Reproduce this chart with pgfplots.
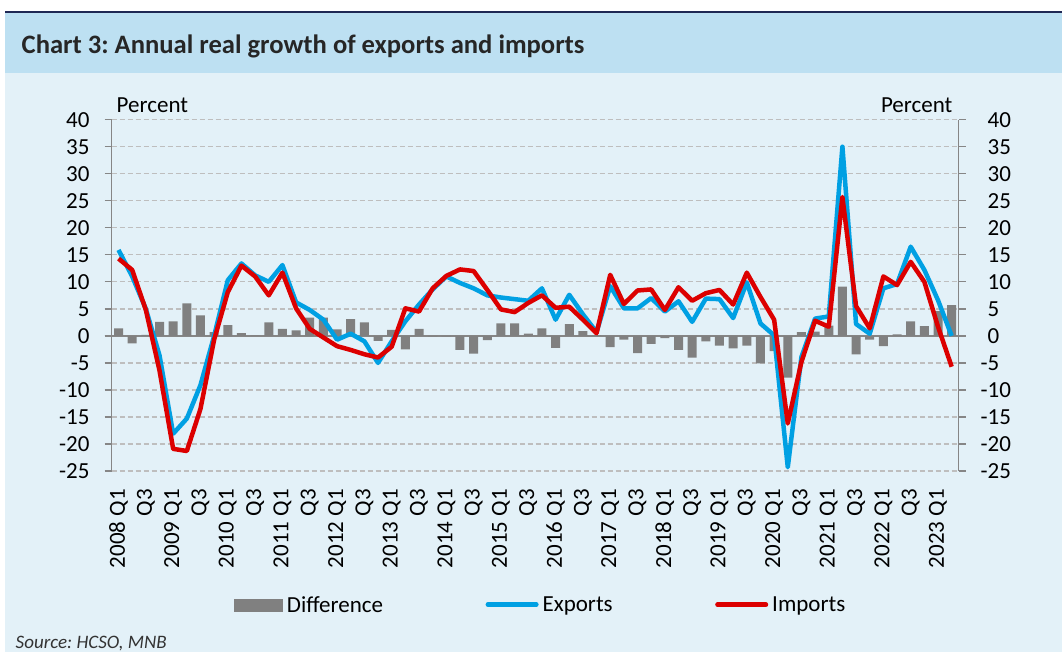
\documentclass[border=0pt]{standalone}
\usepackage{fontspec}
\setmainfont{Carlito}
\usepackage{pgfplots}
\usepackage{pgfplotstable}
\pgfplotsset{compat=1.18}
\definecolor{navy}{RGB}{31,40,84}
\definecolor{titlebg}{RGB}{189,224,242}
\definecolor{plotbg}{RGB}{227,241,248}
\definecolor{expblue}{RGB}{0,160,227}
\definecolor{impred}{RGB}{220,0,0}
\definecolor{bargray}{RGB}{128,128,128}
\definecolor{gridgray}{RGB}{190,190,190}
\definecolor{axisgray}{RGB}{134,134,134}
\newcommand\bigfont{\fontsize{23}{27}\selectfont}
\frenchspacing
\pgfplotsset{
  barleg/.style={legend image code/.code={\fill[bargray] (0pt,-7pt) rectangle (49pt,6pt);}},
  expleg/.style={legend image code/.code={\draw[expblue, line width=4.5pt, line cap=round] (0pt,0.7pt) -- (48.5pt,0.7pt);}},
  impleg/.style={legend image code/.code={\draw[impred, line width=4.5pt, line cap=round] (0pt,0.7pt) -- (48.5pt,0.7pt);}},
}

% i: quarter index from 2008 Q1; e: exports; m: imports; d: difference
\pgfplotstableread{
i e m d
0 15.9 14.3 1.4
1 11.0 12.2 -1.4
2 5.0 4.8 0.2
3 -3.6 -6.4 2.6
4 -18.1 -20.9 2.7
5 -15.3 -21.3 6.0
6 -9.1 -13.5 3.8
7 0.0 -0.7 0.7
8 10.3 8.1 2.0
9 13.4 13.0 0.5
10 11.2 11.0 0.1
11 10.0 7.5 2.5
12 13.1 11.7 1.3
13 6.2 5.1 1.0
14 4.8 1.3 3.4
15 3.0 -0.3 3.4
16 -0.7 -1.9 1.2
17 0.4 -2.6 3.1
18 -1.0 -3.4 2.5
19 -5.0 -4.0 -0.9
20 -1.0 -2.0 1.1
21 2.7 5.1 -2.5
22 5.8 4.5 1.3
23 8.6 8.8 -0.1
24 11.0 11.1 -0.1
25 9.8 12.3 -2.6
26 8.8 12.0 -3.3
27 7.5 8.5 -0.8
28 7.1 4.9 2.3
29 6.8 4.4 2.3
30 6.5 6.1 0.4
31 8.8 7.5 1.4
32 3.0 5.2 -2.2
33 7.6 5.4 2.2
34 4.0 3.0 0.9
35 0.7 0.5 0.1
36 9.2 11.3 -2.1
37 5.1 5.9 -0.7
38 5.1 8.4 -3.2
39 7.0 8.6 -1.5
40 4.5 4.8 -0.4
41 6.4 9.0 -2.6
42 2.6 6.5 -4.0
43 6.9 7.9 -1.0
44 6.8 8.5 -1.8
45 3.3 5.8 -2.3
46 9.9 11.7 -1.8
47 2.3 7.2 -5.1
48 0.1 3.0 -2.8
49 -24.3 -16.2 -7.7
50 -3.9 -4.8 0.7
51 3.2 2.8 0.8
52 3.6 1.7 1.9
53 35.0 25.7 9.1
54 2.2 5.5 -3.4
55 0.4 1.4 -0.7
56 8.8 11.0 -1.9
57 9.6 9.4 0.3
58 16.5 13.7 2.7
59 12.2 10.0 1.8
60 6.6 1.7 4.6
61 0.0 -5.7 5.7
}\data

\begin{document}
\begin{tikzpicture}[x=1pt,y=1pt,font=\bigfont]
% backgrounds
\fill[white] (0,0) rectangle (1062,-652);
\fill[plotbg] (5,-13) rectangle (1062,-652);
\fill[titlebg] (5,-13.3) rectangle (1062,-72.7);
\fill[navy] (5,-10.7) rectangle (1062,-13.3);
\node[anchor=base west, inner sep=0pt, font=\fontsize{26.6}{32}\selectfont\bfseries, text=black!85] at (21.5,-53.3) {Chart 3: Annual real growth of exports and imports};
\node[anchor=base west, inner sep=0pt, font=\itshape\fontsize{19}{23}\selectfont, text=black!80] at (15.5,-648.5) {Source: HCSO, MNB};

\begin{axis}[
  at={(111.7pt,-471pt)}, anchor=south west,
  scale only axis, width=846.8pt, height=351.3pt,
  xmin=-0.5, xmax=61.5, ymin=-25, ymax=40,
  separate axis lines,
  x axis line style={draw=none},
  y axis line style={draw=axisgray, line width=1.3pt},
  tick align=outside,
  major tick length=7pt,
  xtick={0,2,...,60},
  xticklabels={2008 Q1,Q3,2009 Q1,Q3,2010 Q1,Q3,2011 Q1,Q3,2012 Q1,Q3,2013 Q1,Q3,2014 Q1,Q3,2015 Q1,Q3,2016 Q1,Q3,2017 Q1,Q3,2018 Q1,Q3,2019 Q1,Q3,2020 Q1,Q3,2021 Q1,Q3,2022 Q1,Q3,2023 Q1},
  xtick style={draw=none},
  xticklabel style={yshift=-7pt, rotate=90, anchor=east, inner sep=0pt, inner xsep=4pt, font=\bigfont},
  ytick={-25,-20,...,40},
  yticklabels={-25,-20,-15,-10,-5,0,5,10,15,20,25,30,35,40},
  ytick style={draw=axisgray, line width=1.3pt},
  yticklabel style={anchor=east, inner sep=0pt, xshift=-15pt, font=\bigfont},
  ymajorgrids,
  major grid style={draw=gridgray, line width=1.3pt, dash pattern=on 5pt off 3pt},
  extra y ticks={0},
  extra y tick labels={},
  extra y tick style={grid=major, major grid style={solid, draw=axisgray, line width=1.3pt}},
  ylabel={Percent},
  every axis y label/.style={at={(axis description cs:0.0057,1.0219)}, anchor=base west, inner sep=0pt, font=\bigfont},
  legend columns=3,
  legend style={at={(axis description cs:0.1444,-0.3823)}, anchor=west, draw=none, fill=none, inner sep=0pt, outer sep=0pt, column sep=0pt,
    nodes={inner sep=0pt, font=\bigfont},
    /tikz/every odd column/.append style={column sep=4pt},
    /tikz/every even column/.append style={column sep=102.5pt}},
]
\addplot[ybar, bar width=9pt, fill=bargray, draw=none, barleg]
  table[x=i, y=d] {\data};
\addlegendentry{Difference}
\addplot[color=expblue, line width=4.5pt, line join=round, expleg]
  table[x=i, y=e] {\data};
\addlegendentry{Exports}
\addplot[color=impred, line width=4.5pt, line join=round, impleg]
  table[x=i, y=m] {\data};
\addlegendentry{Imports}
\end{axis}

\begin{axis}[
  at={(111.7pt,-471pt)}, anchor=south west,
  scale only axis, width=846.8pt, height=351.3pt,
  xmin=-0.5, xmax=61.5, ymin=-25, ymax=40,
  hide x axis,
  axis y line*=right,
  y axis line style={draw=none},
  ytick style={draw=none},
  major tick length=0pt,
  ytick={-25,-20,...,40},
  yticklabels={\llap{-}25,\llap{-}20,\llap{-}15,\llap{-}10,\llap{-}5,0,5,10,15,20,25,30,35,40},
  yticklabel style={anchor=west, inner sep=0pt, xshift=29pt, font=\bigfont},
  ylabel={Percent},
  every axis y label/.style={at={(axis description cs:0.9929,1.0219)}, anchor=base east, inner sep=0pt, font=\bigfont},
]
\end{axis}
\pgfresetboundingbox
\useasboundingbox (0,0) rectangle (1062,-652);
\end{tikzpicture}
\end{document}
